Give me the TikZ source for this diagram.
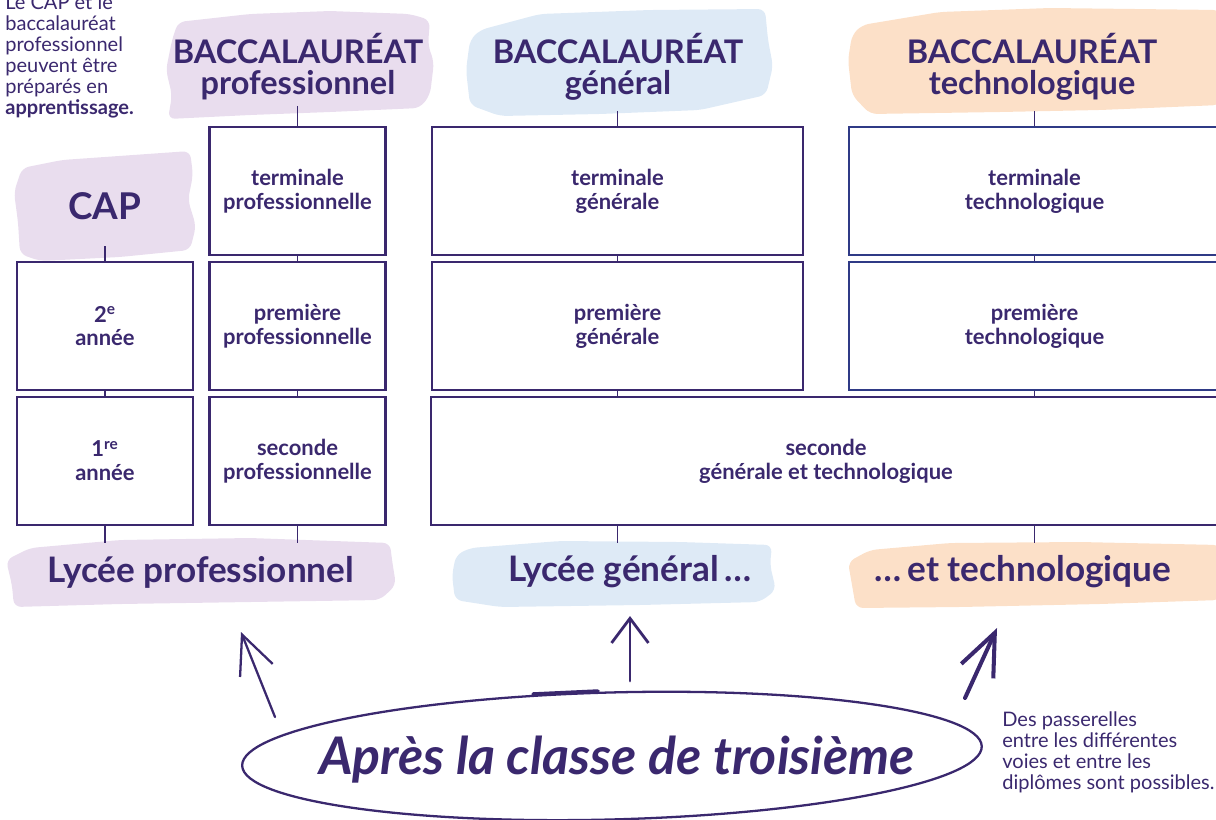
\documentclass[tikz,border=0pt]{standalone}
\usepackage{fontspec}
\setmainfont{Lato}
\usetikzlibrary{arrows.meta,calc}

\definecolor{ink}{HTML}{3A286E}
\definecolor{inkblue}{HTML}{2F3A86}
\definecolor{lilac}{HTML}{E9DDEE}
\definecolor{sky}{HTML}{DEEAF6}
\definecolor{peach}{HTML}{FCE0C8}

\begin{document}
\begin{tikzpicture}[
    x=0.02cm, y=-0.02cm,
    box/.style={draw=ink, line width=1.4pt, fill=white, align=center, text=ink,
        inner sep=0pt, font=\bfseries\fontsize{12.5}{13.6}\selectfont},
    yearbox/.style={box, minimum width=3.52cm, minimum height=2.56cm},
    widebox/.style={box, minimum width=7.42cm, minimum height=2.56cm},
    titletext/.style={align=center, text=ink, inner sep=0pt,
        font=\bfseries\fontsize{18.5}{17.6}\selectfont},
    lyceetext/.style={text=ink, inner sep=0pt, font=\bfseries\fontsize{20}{24}\selectfont},
    notetext/.style={align=left, text=ink, inner sep=0pt, font=\fontsize{11.4}{11.95}\selectfont},
    link/.style={draw=ink, line width=1.1pt},
    handline/.style={draw=ink, line width=1.3pt, line cap=round},
]

    \useasboundingbox (0,0) rectangle (1216,819);
    \clip (0,0) rectangle (1216,819);


    % brush strokes
    \fill[lilac, rounded corners=4pt]
        (178,22) -- (250,14) -- (330,11) -- (410,14) -- (430,20) -- (428,45) --
        (434,62) -- (430,95) -- (420,108) -- (330,112) -- (250,115) --
        (168,119) -- (172,95) -- (166,70) -- (172,40) -- cycle;
    \fill[lilac, rounded corners=4pt]
        (62,160) -- (190,151) -- (193,175) -- (188,200) -- (196,226) --
        (190,250) -- (120,257) -- (40,261) -- (20,254) -- (18,222) --
        (14,192) -- (22,168) -- cycle;
    \fill[sky, rounded corners=4pt]
        (480,30) -- (540,14) -- (650,10) -- (765,9) -- (768,40) -- (773,66) --
        (766,95) -- (700,110) -- (600,114) -- (500,116) -- (470,105) --
        (466,70) -- (470,40) -- cycle;
    \fill[peach, rounded corners=4pt]
        (862,25) -- (940,12) -- (1050,8) -- (1220,10) -- (1220,105) --
        (1100,110) -- (1000,112) -- (870,114) -- (852,95) -- (848,60) --
        (852,35) -- cycle;
    \fill[lilac, rounded corners=4pt]
        (30,548) -- (120,540) -- (250,538) -- (390,543) -- (392,560) --
        (396,585) -- (380,600) -- (250,602) -- (120,604) -- (14,607) --
        (12,585) -- (6,560) -- cycle;
    \fill[sky, rounded corners=4pt]
        (470,548) -- (560,541) -- (680,542) -- (772,545) -- (770,565) --
        (776,590) -- (760,602) -- (640,605) -- (500,607) -- (455,600) --
        (452,575) -- (456,555) -- cycle;
    \fill[peach, rounded corners=4pt]
        (870,550) -- (950,543) -- (1080,542) -- (1220,545) -- (1220,600) --
        (1100,604) -- (960,607) -- (856,608) -- (852,585) -- (848,562) --
        cycle;


    % titles
    \node[titletext] (bac_pro) at (298,67) {BACCALAURÉAT\\professionnel};
    \node[titletext] (bac_gen) at (618,67) {BACCALAURÉAT\\général};
    \node[titletext] (bac_tech) at (1032,67) {BACCALAURÉAT\\technologique};
    \node[titletext, font=\bfseries\fontsize{21}{24}\selectfont] (cap) at (105,206) {CAP};


    % years
    \node[yearbox] (cap_2) at (105,326) {2\textsuperscript{e}\\année};
    \node[yearbox] (cap_1) at (105,461) {1\textsuperscript{re}\\année};

    \node[yearbox] (term_pro) at (297.5,191) {terminale\\professionnelle};
    \node[yearbox] (prem_pro) at (297.5,326) {première\\professionnelle};
    \node[yearbox] (sec_pro) at (297.5,461) {seconde\\professionnelle};

    \node[widebox] (term_gen) at (617.5,191) {terminale\\générale};
    \node[widebox] (prem_gen) at (617.5,326) {première\\générale};

    \node[widebox, draw=inkblue] (term_tech) at (1034.5,191) {terminale\\technologique};
    \node[widebox, draw=inkblue] (prem_tech) at (1034.5,326) {première\\technologique};

    \node[box, minimum width=15.8cm, minimum height=2.56cm] (sec_gt)
        at (826,461) {seconde\\générale et technologique};


    % lycees
    \node[lyceetext] (lyc_pro) at (201,572) {Lycée professionnel};
    \node[lyceetext] (lyc_gen) at (630,572) {Lycée général\,…};
    \node[lyceetext] (lyc_tech) at (1023,572) {…\,et technologique};


    % links
    \coordinate (cap_top) at (cap_2.north |- 0,246);
    \coordinate (bac_pro_foot) at ($(term_pro.north)+(0,-20)$);
    \coordinate (bac_gen_foot) at ($(term_gen.north)+(0,-15)$);
    \coordinate (bac_tech_foot) at ($(term_tech.north)+(0,-15)$);
    \draw[link] (cap_top) -- (cap_2.north);
    \draw[link] (bac_pro_foot) -- (term_pro.north);
    \draw[link] (bac_gen_foot) -- (term_gen.north);
    \draw[link] (bac_tech_foot) -- (term_tech.north);

    \draw[link] (cap_2) -- (cap_1);
    \draw[link] (term_pro) -- (prem_pro);
    \draw[link] (prem_pro) -- (sec_pro);
    \draw[link] (term_gen) -- (prem_gen);
    \draw[link] (term_tech) -- (prem_tech);
    \draw[link] (prem_gen.south) -- (prem_gen.south |- sec_gt.north);
    \draw[link] (prem_tech.south) -- (prem_tech.south |- sec_gt.north);

    \coordinate (cap_1_foot) at ($(cap_1.south)+(0,17)$);
    \coordinate (sec_pro_foot) at ($(sec_pro.south)+(0,17)$);
    \coordinate (sec_gen_foot) at ($(sec_gt.south -| prem_gen)+(0,17)$);
    \coordinate (sec_tech_foot) at ($(sec_gt.south -| prem_tech)+(0,17)$);
    \draw[link] (cap_1.south) -- (cap_1_foot);
    \draw[link] (sec_pro.south) -- (sec_pro_foot);
    \draw[link] (sec_gt.south -| prem_gen) -- (sec_gen_foot);
    \draw[link] (sec_gt.south -| prem_tech) -- (sec_tech_foot);


    % apres la troisieme
    \node[anchor=base, text=ink, inner sep=0pt,
        font=\bfseries\itshape\fontsize{29.5}{32}\selectfont]
        (apres) at (617,774) {Après la classe de troisième};
    \coordinate (ring) at (612,756);
    \draw[handline, rotate around={1.5:(ring)}]
        (ring) ellipse [x radius=7.4cm, y radius=1.27cm];
    \draw[handline, line width=2pt] (533,694) -- (598,691);


    % arrows
    \coordinate (arr_pro_tail) at (275,717);
    \coordinate (arr_pro_tip) at (241,632);
    \coordinate (arr_gen_tail) at (630,681);
    \coordinate (arr_gen_tip) at (630,616);
    \coordinate (arr_tech_tail) at (965,698);
    \coordinate (arr_tech_tip) at (997,628);
    \draw[handline, -{Straight Barb[length=22pt, width=20pt]}]
        (arr_pro_tail) -- (arr_pro_tip);
    \draw[handline, line width=1.6pt, -{Straight Barb[length=14pt, width=21pt]}]
        (arr_gen_tail) -- (arr_gen_tip);
    \draw[handline, line width=2.3pt, -{Straight Barb[length=24pt, width=20pt]}]
        (arr_tech_tail) -- (arr_tech_tip);


    % notes
    \node[notetext, anchor=north west] (cap_note) at (5,-6)
        {Le CAP et le\\baccalauréat\\professionnel\\peuvent être\\préparés en\\\textbf{apprentissage.}};
    \node[notetext, anchor=north west] (bridge_note) at (1002,711)
        {Des passerelles\\entre les différentes\\voies et entre les\\diplômes sont possibles.};

\end{tikzpicture}
\end{document}
